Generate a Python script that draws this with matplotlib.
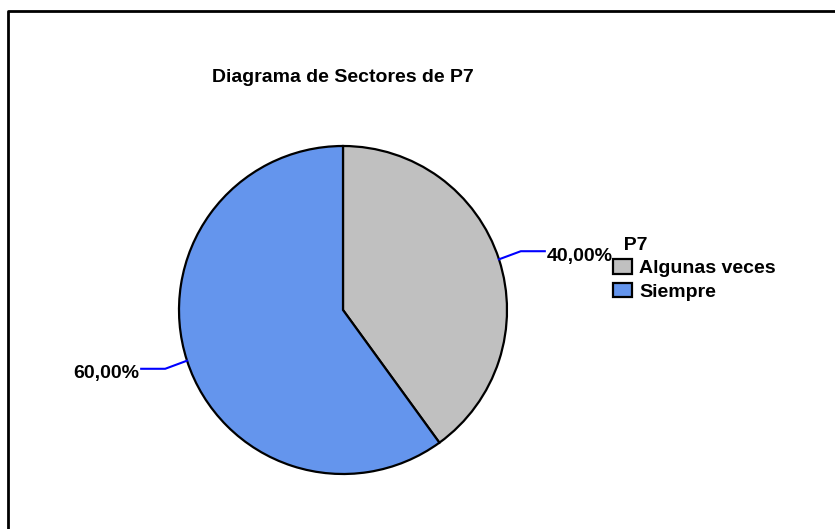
import numpy as np
import matplotlib.pyplot as plt

plt.rcParams['font.family'] = ['Liberation Sans', 'DejaVu Sans']

categorias = ["Algunas veces", "Siempre"]
porcentajes = [40.0, 60.0]
etiquetas = ["40,00%", "60,00%"]
colores = ["#C0C0C0", "#6495ED"]

W, H = 835, 529
fig = plt.figure(figsize=(W / 100, H / 100), dpi=100)
ax = fig.add_axes([0, 0, 1, 1])

cx, cy, R = 343, H - 310, 164
wedges, _ = ax.pie(porcentajes, colors=colores, startangle=90, counterclock=False,
                   center=(cx, cy), radius=R,
                   wedgeprops=dict(edgecolor="black", linewidth=1.6))
ax.set_xlim(0, W)
ax.set_ylim(0, H)
ax.axis("off")

# lineas guia + etiquetas
for w, txt in zip(wedges, etiquetas):
    ang = np.deg2rad((w.theta1 + w.theta2) / 2)
    x0, y0 = cx + R * np.cos(ang), cy + R * np.sin(ang)
    x1, y1 = cx + 1.14 * R * np.cos(ang), cy + 1.16 * R * np.sin(ang)
    lado = 1 if np.cos(ang) > 0 else -1
    x2 = x1 + lado * 24
    ax.plot([x0, x1, x2], [y0, y1, y1], color="blue", lw=1.5, clip_on=False)
    ax.text(x2 + lado * 2, y1 - 5, txt, fontsize=14, fontweight="bold",
            ha="left" if lado > 0 else "right", va="center")

ax.text(cx, H - 78, "Diagrama de Sectores de P7", fontsize=14, fontweight="bold",
        ha="center", va="center")

leg = ax.legend(wedges, categorias, title="  P7", frameon=False,
                loc="upper left", bbox_to_anchor=(613 / W, 1 - 237 / H),
                prop=dict(size=14, weight="bold"),
                title_fontproperties=dict(size=14, weight="bold"),
                handlelength=1.0, handleheight=0.75, handletextpad=0.35,
                labelspacing=0.28, borderpad=0, borderaxespad=0)
leg._legend_box.align = "left"
for h in leg.legend_handles:
    h.set_linewidth(1.6)

# marco
ax.plot([7.5, 7.5, W], [0, H - 11, H - 11], color="black", lw=2, clip_on=False)

fig.savefig("out.png", dpi=100)
